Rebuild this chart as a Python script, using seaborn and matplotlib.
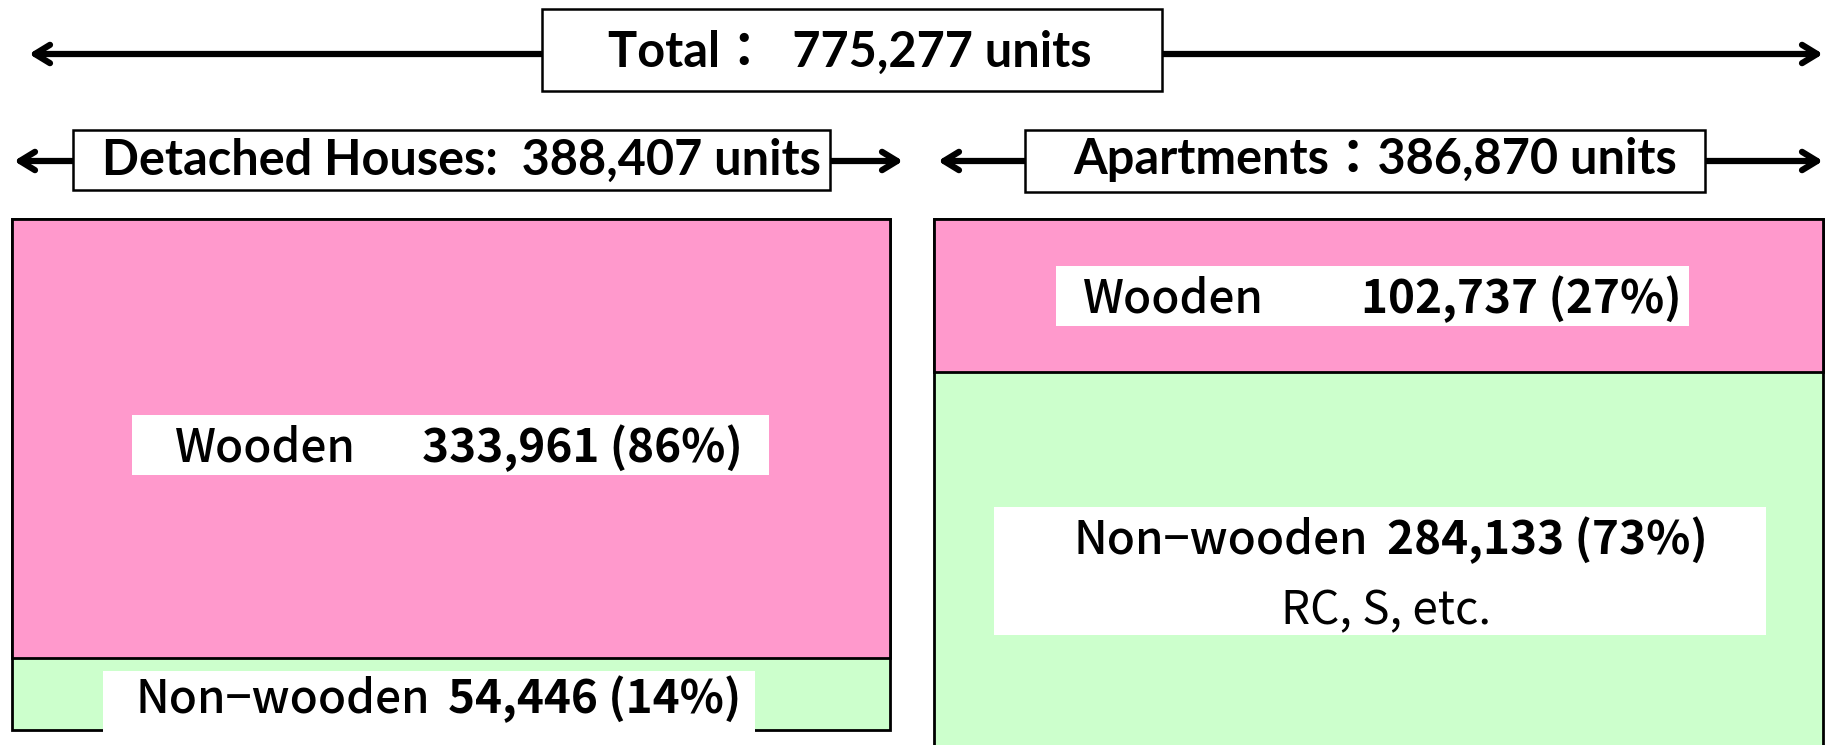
import matplotlib
matplotlib.use('Agg')
import matplotlib.pyplot as plt
import seaborn as sns
import pandas as pd
from matplotlib.patches import Rectangle

# data
groups = ['Detached Houses', 'Apartments']
wooden = [333961, 102737]
non_wooden = [54446, 284133]
pink = '#FF99CC'
green = '#CCFFCC'

sns.set_theme(style='white')
plt.rcParams['font.family'] = ['Noto Sans CJK JP', 'DejaVu Sans']
plt.rcParams['text.color'] = 'black'

W, H = 1827, 745
fig = plt.figure(figsize=(W / 100, H / 100), dpi=100)

totals = [w + n for w, n in zip(wooden, non_wooden)]
grand = sum(totals)

# bar panels (pixel layout: left, right, visible scale bottom)
panels = [(12, 890, 1.030), (934, 1823, 0.913)]
top_px = 219
for i, (x0, x1, ybot) in enumerate(panels):
    ax = fig.add_axes([x0 / W, 0, (x1 - x0) / W, (H - top_px) / H])
    df = pd.DataFrame({'g': [groups[i]], 'total': [1.0],
                       'wood': [wooden[i] / totals[i]]})
    sns.barplot(data=df, x='g', y='total', color=green, width=1.0,
                edgecolor='black', linewidth=2, saturation=1, ax=ax)
    sns.barplot(data=df, x='g', y='wood', color=pink, width=1.0,
                edgecolor='black', linewidth=2, saturation=1, ax=ax)
    for p in ax.patches:
        p.set_clip_on(False)
    ax.set_xlim(-0.5, 0.5)
    ax.set_ylim(ybot, 0)
    ax.axis('off')

# overlay in pixel coordinates
ov = fig.add_axes([0, 0, 1, 1], zorder=5)
ov.set_xlim(0, W)
ov.set_ylim(H, 0)
ov.axis('off')
ov.patch.set_alpha(0)

head_font = ['Lato', 'Noto Sans CJK JP', 'DejaVu Sans']


def darrow(xa, xb, y):
    ov.annotate('', xy=(xa, y), xytext=(xb, y),
                arrowprops=dict(arrowstyle='<->,head_length=0.9,head_width=0.55',
                                lw=4.5, color='black', capstyle='round',
                                joinstyle='round', shrinkA=0, shrinkB=0))


def hbox(x0, x1, y0, y1, lw=1.8):
    ov.add_patch(Rectangle((x0, y0), x1 - x0, y1 - y0, facecolor='white',
                           edgecolor='black' if lw else 'none', lw=lw, zorder=3))


# headers
darrow(29, 1823, 54)
hbox(542, 1162, 9, 91)
ov.text(850, 52, f'Total：  {grand:,} units', ha='center', va='center',
        fontsize=35, fontweight='bold', family=head_font, zorder=4)

darrow(14, 903, 161)
hbox(73, 830, 130, 190)
ov.text(461, 160, f'{groups[0]}:  {totals[0]:,} units', ha='center', va='center',
        fontsize=35, fontweight='bold', family=head_font, zorder=4)

darrow(938, 1823, 161)
hbox(1025, 1705, 130, 192)
ov.text(1375, 160, f'{groups[1]}：{totals[1]:,} units', ha='center', va='center',
        fontsize=35, fontweight='bold', family=head_font, zorder=4)

# labels inside bars
def label(box, word_x, num_x, y, word, count, total):
    hbox(*box, lw=0)
    pct = round(count / total * 100)
    ov.text(word_x, y, word, ha='left', va='center', fontsize=33,
            fontweight='medium', zorder=4)
    ov.text(num_x, y, f'{count:,} ({pct}%)', ha='right', va='center',
            fontsize=33, fontweight='bold', zorder=4)


label((132, 769, 415, 475), 175, 743, 448, 'Wooden', wooden[0], totals[0])
label((103, 755, 671, 734), 135, 741, 699, 'Non−wooden', non_wooden[0], totals[0])
label((1056, 1689, 266, 326), 1083, 1682, 299, 'Wooden', wooden[1], totals[1])
label((994, 1766, 507, 635), 1074, 1708, 540, 'Non−wooden', non_wooden[1], totals[1])
ov.text(1386, 611, 'RC, S, etc.', ha='center', va='center', fontsize=33, zorder=4)

fig.savefig('out.png', dpi=100)
